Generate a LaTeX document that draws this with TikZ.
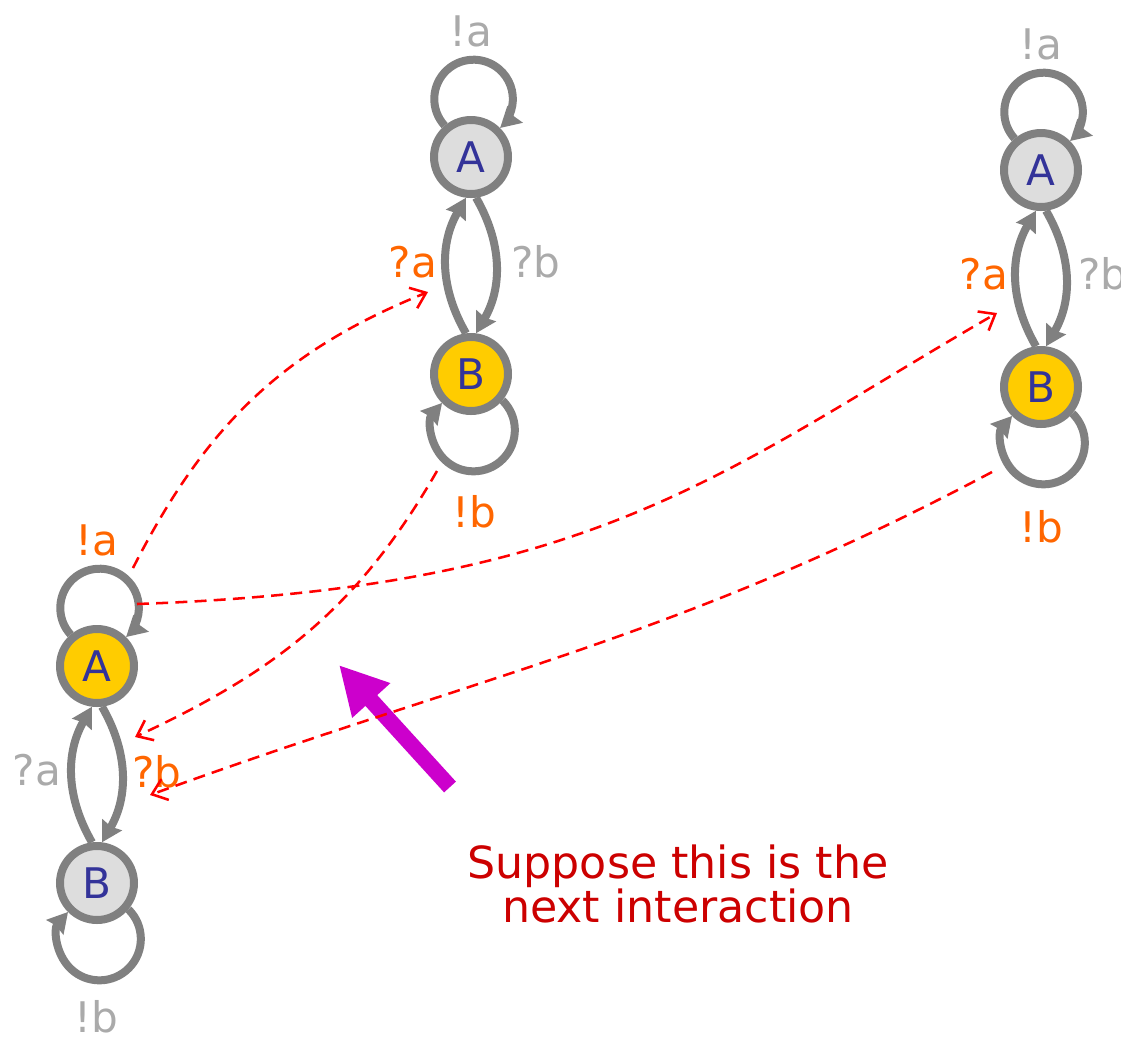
\documentclass[tikz,border=0pt]{standalone}
\usepackage{fontspec}
\setmainfont{DejaVu Sans}
\usepackage{xcolor}
\usepackage{tikz}
\usetikzlibrary{arrows.meta}
\definecolor{edgegrey}{HTML}{808080}
\definecolor{fillgrey}{HTML}{DDDDDD}
\definecolor{fillgold}{HTML}{FFCC00}
\definecolor{letterblue}{HTML}{333399}
\definecolor{sentorange}{HTML}{FF6600}
\definecolor{dimgrey}{HTML}{AAAAAA}
\definecolor{hintred}{HTML}{FF0000}
\definecolor{notered}{HTML}{CC0000}
\definecolor{pointmagenta}{HTML}{CC00CC}
\pgfdeclarelayer{nodelayer}
\pgfdeclarelayer{edgelayer}
\pgfsetlayers{nodelayer,edgelayer,main}
\tikzset{
    none/.style = {inner sep=0pt},
    grey state/.style = {circle, draw=edgegrey, fill=fillgrey, line width=0.2cm, minimum size=1.85cm, inner sep=0pt, text=letterblue, font=\fontsize{30}{30}\selectfont},
    gold state/.style = {grey state, fill=fillgold},
    hot label/.style = {inner sep=0pt, anchor=base, text=sentorange, font=\fontsize{30}{30}\selectfont},
    dim label/.style = {hot label, text=dimgrey},
    note/.style = {align=center, text=notered, font=\fontsize{31.5}{30}\selectfont},
    move edge/.style = {draw=edgegrey, line width=0.2cm, -{Stealth[length=0.5cm, width=0.55cm, inset=0.05cm]}},
    hint edge/.style = {draw=hintred, line width=1.8pt, dash pattern=on 0.3cm off 0.18cm, -{Straight Barb[length=0.35cm, width=0.55cm]}},
    big pointer/.style = {draw=pointmagenta, line width=0.4cm, -{Triangle[length=1.2cm, width=1.2cm]}}
}

\begin{document}
\begin{tikzpicture}
    \useasboundingbox (0, 0) rectangle (28.025, -26.025);
    \begin{pgfonlayer}{nodelayer}
        \node [style=gold state] (0) at (2.425, -16.65) {A};
        \node [style=grey state] (1) at (2.425, -22.075) {B};
        \node [style=grey state] (2) at (11.775, -3.925) {A};
        \node [style=gold state] (3) at (11.775, -9.35) {B};
        \node [style=grey state] (4) at (26.025, -4.25) {A};
        \node [style=gold state] (5) at (26.025, -9.675) {B};
        \node [style=hot label] (6) at (2.425, -13.875) {!a};
        \node [style=dim label] (7) at (0.925, -19.625) {?a};
        \node [style=hot label] (8) at (3.925, -19.675) {?b};
        \node [style=dim label] (9) at (2.4, -25.8) {!b};
        \node [style=dim label] (10) at (11.775, -1.15) {!a};
        \node [style=hot label] (11) at (10.325, -6.925) {?a};
        \node [style=dim label] (12) at (13.4, -6.925) {?b};
        \node [style=hot label] (13) at (11.85, -13.175) {!b};
        \node [style=dim label] (14) at (26.025, -1.475) {!a};
        \node [style=hot label] (15) at (24.6, -7.225) {?a};
        \node [style=dim label] (16) at (27.575, -7.225) {?b};
        \node [style=hot label] (17) at (26.025, -13.55) {!b};
        \node [style=none] (18) at (3.325, -14.2) {};
        \node [style=none] (19) at (10.7, -7.3) {};
        \node [style=none] (20) at (3.425, -15.1) {};
        \node [style=none] (21) at (24.925, -7.825) {};
        \node [style=none] (22) at (10.925, -11.775) {};
        \node [style=none] (23) at (3.375, -18.425) {};
        \node [style=none] (24) at (24.8, -11.8) {};
        \node [style=none] (25) at (3.75, -19.875) {};
        \node [style=none] (26) at (11.25, -19.675) {};
        \node [style=none] (27) at (8.475, -16.625) {};
        \node [style=note] (28) at (16.95, -22.1) {Suppose this is the\\next interaction};
    \end{pgfonlayer}
    \begin{pgfonlayer}{edgelayer}
        \draw [style=move edge] (0.130) arc [start angle=222.6, end angle=-47.6, radius=0.9825cm];
        \draw [style=move edge] (1.97) to [bend left=30] (0.-97);
        \draw [style=move edge] (0.-83) to [bend left=30] (1.83);
        \draw [style=move edge] (1.-40) arc [start angle=45.6, end angle=-220.7, radius=1.035cm];
        \draw [style=move edge] (2.130) arc [start angle=222.6, end angle=-47.6, radius=0.9825cm];
        \draw [style=move edge] (3.97) to [bend left=30] (2.-97);
        \draw [style=move edge] (2.-83) to [bend left=30] (3.83);
        \draw [style=move edge] (3.-40) arc [start angle=45.6, end angle=-220.7, radius=1.035cm];
        \draw [style=move edge] (4.130) arc [start angle=222.6, end angle=-47.6, radius=0.9825cm];
        \draw [style=move edge] (5.97) to [bend left=30] (4.-97);
        \draw [style=move edge] (4.-83) to [bend left=30] (5.83);
        \draw [style=move edge] (5.-40) arc [start angle=45.6, end angle=-220.7, radius=1.035cm];
        \draw [style=big pointer] (26.center) to (27.center);
        % synchronising hints
        \draw [style=hint edge] (18.center) to [out=63, in=-158] (19.center);
        \draw [style=hint edge] (20.center) to [out=2, in=-150, out looseness=1.3, in looseness=0.9] (21.center);
        \draw [style=hint edge] (22.center) to [out=-120, in=25] (23.center);
        \draw [style=hint edge] (24.center) to [out=-152, in=20] (25.center);
    \end{pgfonlayer}
\end{tikzpicture}
\end{document}
